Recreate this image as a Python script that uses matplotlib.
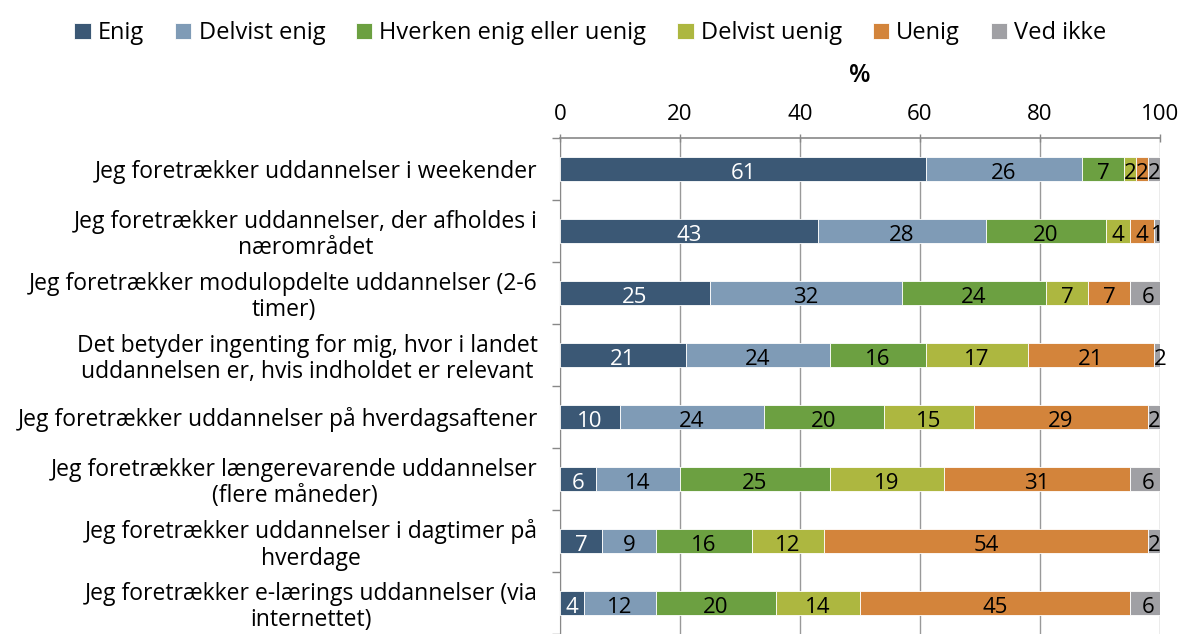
import numpy as np
import matplotlib.pyplot as plt

plt.rcParams['font.family'] = ['Open Sans', 'DejaVu Sans']

# survey statements, top to bottom
statements = [
    "Jeg foretrækker uddannelser i weekender",
    "Jeg foretrækker uddannelser, der afholdes i\nnærområdet",
    "Jeg foretrækker modulopdelte uddannelser (2-6\ntimer)",
    "Det betyder ingenting for mig, hvor i landet\nuddannelsen er, hvis indholdet er relevant",
    "Jeg foretrækker uddannelser på hverdagsaftener",
    "Jeg foretrækker længerevarende uddannelser\n(flere måneder)",
    "Jeg foretrækker uddannelser i dagtimer på\nhverdage",
    "Jeg foretrækker e-lærings uddannelser (via\ninternettet)",
]

answers = ["Enig", "Delvist enig", "Hverken enig eller uenig",
           "Delvist uenig", "Uenig", "Ved ikke"]

enig = [61, 43, 25, 21, 10, 6, 7, 4]
delvist_enig = [26, 28, 32, 24, 24, 14, 9, 12]
hverken = [7, 20, 24, 16, 20, 25, 16, 20]
delvist_uenig = [2, 4, 7, 17, 15, 19, 12, 14]
uenig = [2, 4, 7, 21, 29, 31, 54, 45]
ved_ikke = [2, 1, 6, 2, 2, 6, 2, 6]

series = [enig, delvist_enig, hverken, delvist_uenig, uenig, ved_ikke]
colors = ["#3B5875", "#7F9BB6", "#6CA041", "#ADB740", "#D3843B", "#A0A0A4"]
text_colors = ["white", "black", "black", "black", "black", "black"]

fig = plt.figure(figsize=(11.81, 6.34), dpi=100)
ax = fig.add_axes([560 / 1181, 0.0, 600 / 1181, 1 - 138 / 634])

y = np.arange(len(statements))
left = np.zeros(len(statements))
for vals, name, col, tcol in zip(series, answers, colors, text_colors):
    vals = np.array(vals, dtype=float)
    ax.barh(y, vals, left=left, height=0.4, color=col, edgecolor="white",
            linewidth=0.6, label=name, zorder=3)
    for yi, (l, v) in enumerate(zip(left, vals)):
        ax.text(l + v / 2, yi + 0.07, f"{int(v)}", ha="center", va="center",
                fontsize=16, color=tcol, zorder=4)
    left += vals

ax.set_xlim(0, 100)
ax.set_ylim(len(statements) - 0.5, -0.5)
ax.xaxis.tick_top()
ax.xaxis.set_label_position("top")
ax.set_xticks(np.arange(0, 101, 20))
ax.set_xlabel("%", fontsize=18, fontweight="semibold", labelpad=16)
ax.tick_params(axis="x", length=6, width=1, color="#888888", labelsize=16,
               pad=6, direction="inout")

# category ticks sit on the boundaries between rows
ax.set_yticks(np.arange(len(statements) + 1) - 0.5, minor=False)
ax.set_yticklabels([])
ax.set_yticks(y, minor=True)
ax.set_yticklabels(statements, minor=True, fontsize=16.5, ha="right",
                   linespacing=1.12)
for lbl in ax.get_yticklabels(minor=True):
    lbl.set_multialignment("center")
ax.tick_params(axis="y", which="minor", length=0, pad=16)
ax.tick_params(axis="y", which="major", length=6, color="#888888", width=1)

ax.grid(axis="x", color="#999999", linewidth=1, zorder=0)
for side in ["right", "bottom"]:
    ax.spines[side].set_visible(False)
ax.spines["top"].set_color("#888888")
ax.spines["left"].set_color("#888888")
ax.spines["top"].set_linewidth(1.2)

fig.legend(loc="upper center", bbox_to_anchor=(0.5, 1.0), ncol=6,
           frameon=False, fontsize=17, handlelength=0.7, handleheight=0.7,
           handletextpad=0.3, columnspacing=1.3)

fig.savefig("out.png", dpi=100)
